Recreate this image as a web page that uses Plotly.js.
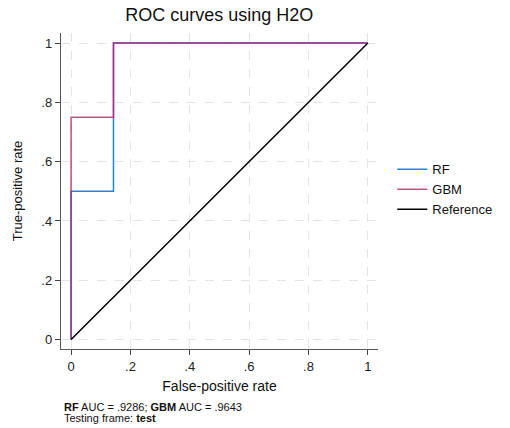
<!DOCTYPE html>
<html>
<head>
<meta charset="utf-8">
<script src="https://cdn.plot.ly/plotly-3.0.1.min.js"></script>
<style>html,body{margin:0;padding:0;background:#fff;}#chart{width:510px;height:428px;}</style>
</head>
<body>
<div id="chart"></div>
<script>
var rfFPR = [0, 0, 0.142857, 0.142857, 1];
var rfTPR = [0, 0.5, 0.5, 1, 1];
var gbmFPR = [0, 0, 0.142857, 0.142857, 1];
var gbmTPR = [0, 0.75, 0.75, 1, 1];
var refX = [0, 1];
var refY = [0, 1];
var tickVals = [0, 0.2, 0.4, 0.6, 0.8, 1];
var tickText = ["0", ".2", ".4", ".6", ".8", "1"];
var seriesNames = ["RF", "GBM", "Reference"];
var aucRF = ".9286", aucGBM = ".9643", testFrame = "test";

var font = "Liberation Sans, Arial, sans-serif";
var traces = [
  {x: rfFPR, y: rfTPR, name: seriesNames[0], mode: "lines", line: {color: "#1a85ff", width: 1.5}},
  {x: gbmFPR, y: gbmTPR, name: seriesNames[1], mode: "lines", opacity: 0.8, line: {color: "#d41159", width: 1.5}},
  {x: refX, y: refY, name: seriesNames[2], mode: "lines", line: {color: "#000000", width: 1.5}}
];
var axisCommon = {
  tickvals: tickVals, ticktext: tickText, ticks: "outside", ticklen: 5, tickwidth: 1,
  tickcolor: "#444", showline: true, linecolor: "#555", linewidth: 1.2,
  showgrid: true, gridcolor: "#e4e4e4", griddash: "dash", gridwidth: 1, zeroline: false,
  tickfont: {family: font, size: 13, color: "#222"}
};
var layout = {
  width: 510, height: 428,
  margin: {l: 61, r: 132, t: 33, b: 79},
  paper_bgcolor: "#fff", plot_bgcolor: "#fff",
  title: {text: "ROC curves using H2O", font: {family: font, size: 18, color: "#111"}, x: 0.43, xanchor: "center", y: 0.965, yanchor: "middle"},
  xaxis: Object.assign({}, axisCommon, {range: [-0.034, 1.034], title: {text: "False-positive rate", font: {family: font, size: 14, color: "#111"}, standoff: 8}}),
  yaxis: Object.assign({}, axisCommon, {range: [-0.032, 1.034], title: {text: "True-positive rate", font: {family: font, size: 13, color: "#111"}, standoff: 15}}),
  showlegend: true,
  legend: {x: 1.045, xanchor: "left", y: 0.505, yanchor: "middle", font: {family: font, size: 13, color: "#111"}, bgcolor: "rgba(0,0,0,0)", tracegroupgap: 0},
  annotations: [
    {xref: "paper", yref: "paper", x: 0.004, y: -(407 - 349) / 316, xanchor: "left", yanchor: "middle", showarrow: false, align: "left",
     text: "<b>RF</b> AUC = " + aucRF + "; <b>GBM</b> AUC = " + aucGBM,
     font: {family: font, size: 11, color: "#111"}},
    {xref: "paper", yref: "paper", x: 0.004, y: -(418 - 349) / 316, xanchor: "left", yanchor: "middle", showarrow: false, align: "left",
     text: "Testing frame: <b>" + testFrame + "</b>",
     font: {family: font, size: 11, color: "#111"}}
  ]
};
Plotly.newPlot("chart", traces, layout, {displayModeBar: false, staticPlot: true});
</script>
</body>
</html>
